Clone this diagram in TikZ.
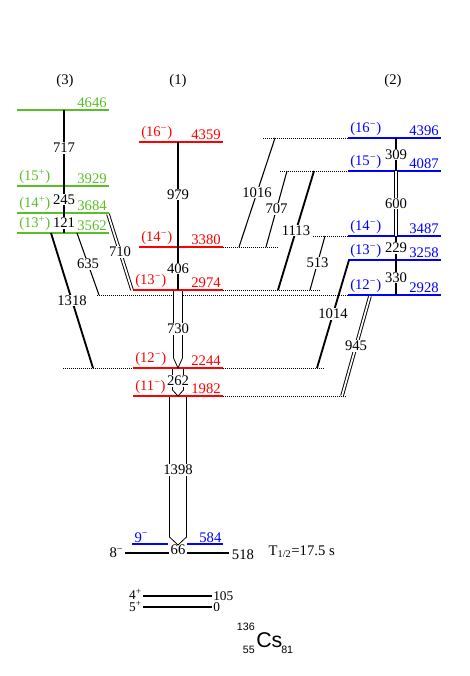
\documentclass[tikz,border=0pt]{standalone}
\usepackage{fontspec}
\setmainfont{Liberation Serif}
\setsansfont{Liberation Sans}
\definecolor{colG}{RGB}{90,190,40}
\begin{document}
\begin{tikzpicture}[x=0.75pt, y=-0.75pt,
  font=\fontsize{11}{13}\selectfont,
  lvlR/.style={red, line width=1.4pt},
  lvlB/.style={blue, line width=1.4pt},
  lvlG/.style={colG, line width=1.4pt},
  ext/.style={densely dotted, line width=0.5pt},
  sp/.style={anchor=south west, inner sep=1pt},
  en/.style={anchor=south east, inner sep=1pt},
  thk/.style={line width=1.4pt},
  thn/.style={line width=0.8pt},
  dbl/.style={double, double distance=1.3pt, line width=0.7pt},
  wide/.style={line width=0.6pt, fill=white},
  lbl/.style={fill=white, inner sep=0.5pt, text=black},
  gs/.style={inner sep=0pt, font=\fontsize{10}{12}\selectfont}
]
\useasboundingbox (0,0) rectangle (469,676);

% column headings
\node (h3) at (65,81) {(3)};
\node (h1) at (178,81) {(1)};
\node (h2) at (393,81) {(2)};

% dotted extensions of levels
\draw[ext] (263,138) -- (348,138);
\draw[ext] (280,171) -- (348,171);
\draw[ext] (313,236) -- (348,236);
\draw[ext] (223,247) -- (278,247);
\draw[ext] (223,290) -- (320,290);
\draw[ext] (97,295) -- (348,295);
\draw[ext] (63,368) -- (133,368);
\draw[ext] (223,368) -- (325,368);
\draw[ext] (223,396) -- (347,396);

% band (3)
\draw[lvlG] (17,110) -- (109,110) node[en] (e4646) {4646};
\draw[lvlG] (17,186) node[sp] (s3929) {(15\textsuperscript{+})} -- (109,186) node[en] (e3929) {3929};
\draw[lvlG] (17,213) node[sp] (s3684) {(14\textsuperscript{+})} -- (109,213) node[en] (e3684) {3684};
\draw[lvlG] (17,233) node[sp] (s3562) {(13\textsuperscript{+})} -- (109,233) node[en] (e3562) {3562};

% band (1)
\draw[lvlR] (139,142) node[sp] (s4359) {(16\textsuperscript{−})} -- (223,142) node[en] (e4359) {4359};
\draw[lvlR] (139,247) node[sp] (s3380) {(14\textsuperscript{−})} -- (223,247) node[en] (e3380) {3380};
\draw[lvlR] (133,290) node[sp] (s2974) {(13\textsuperscript{−})} -- (223,290) node[en] (e2974) {2974};
\draw[lvlR] (133,368) node[sp] (s2244) {(12\textsuperscript{−})} -- (223,368) node[en] (e2244) {2244};
\draw[lvlR] (133,396) node[sp] (s1982) {(11\textsuperscript{−})} -- (223,396) node[en] (e1982) {1982};

% band (2)
\draw[lvlB] (348,138) node[sp] (s4396) {(16\textsuperscript{−})} -- (441,138) node[en] (e4396) {4396};
\draw[lvlB] (348,171) node[sp] (s4087) {(15\textsuperscript{−})} -- (441,171) node[en] (e4087) {4087};
\draw[lvlB] (348,236) node[sp] (s3487) {(14\textsuperscript{−})} -- (441,236) node[en] (e3487) {3487};
\draw[lvlB] (348,260) node[sp] (s3258) {(13\textsuperscript{−})} -- (441,260) node[en] (e3258) {3258};
\draw[lvlB] (348,295) node[sp] (s2928) {(12\textsuperscript{−})} -- (441,295) node[en] (e2928) {2928};

% transitions, band (3)
\coordinate (a717) at (64,110); \coordinate (b717) at (64,186);
\coordinate (a245) at (64,186); \coordinate (b245) at (64,213);
\coordinate (a121) at (64,213); \coordinate (b121) at (64,233);
\coordinate (a1318) at (51,233); \coordinate (b1318) at (93,368);
\coordinate (a635) at (77,233); \coordinate (b635) at (99,295);
\coordinate (a710) at (108,214); \coordinate (b710) at (132,290);
\draw[thk] (a717) -- node[lbl] (t717) {717} (b717);
\draw[thk] (a245) -- node[lbl] (t245) {245} (b245);
\draw[thn] (a121) -- node[lbl] (t121) {121} (b121);
\draw[thk] (a1318) -- node[lbl] (t1318) {1318} (b1318);
\draw[thn] (a635) -- node[lbl] (t635) {635} (b635);
\draw[dbl] (a710) -- node[lbl] (t710) {710} (b710);

% transitions, band (1)
\coordinate (a979) at (178,142); \coordinate (b979) at (178,247);
\coordinate (a406) at (178,247); \coordinate (b406) at (178,290);
\draw[thn] (a979) -- node[lbl] (t979) {979} (b979);
\draw[thk] (a406) -- node[lbl] (t406) {406} (b406);
\draw[wide] (173.5,291) -- (173.5,358) -- (178,368) -- (182.5,358) -- (182.5,291);
\node[lbl] (t730) at (178,329) {730};
\draw[wide] (172.5,369) -- (172.5,390) -- (178,396) -- (183.5,390) -- (183.5,369);
\node[lbl] (t262) at (178,381) {262};
\draw[wide] (169.5,397) -- (169.5,537) -- (178,545) -- (186.5,537) -- (186.5,397);
\node[lbl] (t1398) at (178,470) {1398};

% transitions, band (2) and crossing
\coordinate (a309) at (396,138); \coordinate (b309) at (396,171);
\coordinate (a600) at (396,171); \coordinate (b600) at (396,236);
\coordinate (a229) at (396,236); \coordinate (b229) at (396,260);
\coordinate (a330) at (396,260); \coordinate (b330) at (396,295);
\draw[thn] (a309) -- node[lbl] (t309) {309} (b309);
\draw[dbl] (a600) -- node[lbl] (t600) {600} (b600);
\draw[thk] (a229) -- node[lbl] (t229) {229} (b229);
\draw[thk] (a330) -- node[lbl] (t330) {330} (b330);
\coordinate (a1016) at (275,138); \coordinate (b1016) at (239,247);
\coordinate (a707) at (287,171); \coordinate (b707) at (266,247);
\coordinate (a1113) at (314,171); \coordinate (b1113) at (278,290);
\coordinate (a513) at (325,236); \coordinate (b513) at (310,290);
\coordinate (a1014) at (349,260); \coordinate (b1014) at (317,368);
\coordinate (a945) at (370,296); \coordinate (b945) at (342,396);
\draw[thn] (a1016) -- node[lbl] (t1016) {1016} (b1016);
\draw[thn] (a707) -- node[lbl] (t707) {707} (b707);
\draw[thk] (a1113) -- node[lbl] (t1113) {1113} (b1113);
\draw[thn] (a513) -- node[lbl] (t513) {513} (b513);
\draw[thk] (a1014) -- node[lbl] (t1014) {1014} (b1014);
\draw[dbl] (a945) -- node[lbl] (t945) {945} (b945);

% isomer and ground states
\draw[blue, line width=1.2pt] (132,544) -- (168,544);
\draw[blue, line width=1.2pt] (187,544) -- (223,544);
\node[sp, blue] (s584) at (133,544) {9\textsuperscript{−}};
\node[en, blue] (e584) at (223,544) {584};
\draw[line width=2.2pt] (125,553) -- (169,553);
\draw[line width=2.2pt] (187,553) -- (229,553);
\node[anchor=east, inner sep=1pt] (s518) at (125,553) {8\textsuperscript{−}};
\node[anchor=west, inner sep=2pt] (e518) at (229,555) {518};
\node (t66) at (178,550) {66};
\node[anchor=west] (thalf) at (264,552) {T\textsubscript{1/2}=17.5 s};
\draw[thn] (143,596) -- (212,596);
\draw[thn] (143,607) -- (212,607);
\node[gs, anchor=base east] (s105) at (142,599) {4\textsuperscript{+}};
\node[gs, anchor=base east] (s0) at (142,611) {5\textsuperscript{+}};
\node[gs, anchor=base west] (e105) at (213,600) {105};
\node[gs, anchor=base west] (e0) at (213,611) {0};

% nucleus
\node[anchor=base west, inner sep=0pt, font=\sffamily\fontsize{16}{16}\selectfont] (cs) at (256,647) {Cs};
\node[anchor=base east, inner sep=0pt, font=\sffamily\fontsize{8}{8}\selectfont] (mass) at (255,630) {136};
\node[anchor=base east, inner sep=0pt, font=\sffamily\fontsize{8}{8}\selectfont] (zz) at (255,653) {55};
\node[anchor=base west, inner sep=0pt, font=\sffamily\fontsize{8}{8}\selectfont] (nn) at (281,653) {81};
\end{tikzpicture}
\end{document}
